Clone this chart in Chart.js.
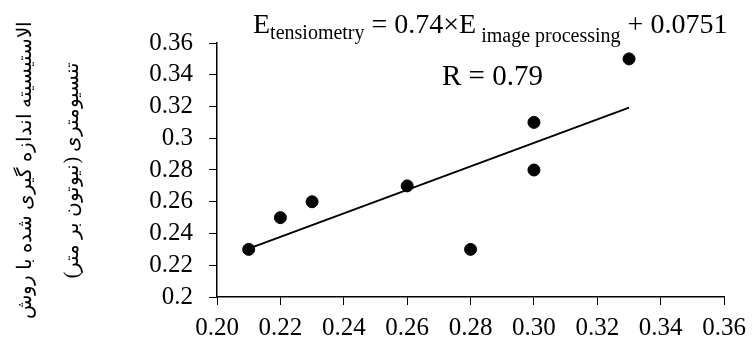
<!DOCTYPE html>
<html>
<head>
<meta charset="utf-8">
<script src="https://cdn.jsdelivr.net/npm/chart.js@4.4.1/dist/chart.umd.min.js"></script>
<style>
  html,body{margin:0;padding:0;background:#fff;}
  #wrap{width:754px;height:343px;}
</style>
</head>
<body>
<div id="wrap"><canvas id="chart" width="754" height="343"></canvas></div>
<script>
// image processing (x) vs tensiometry (y), N/m
const xValues=[0.21,0.22,0.23,0.26,0.28,0.30,0.30,0.33];
const yValues=[0.23,0.25,0.26,0.27,0.23,0.28,0.31,0.35];
const fitSlope=0.74;
const fitIntercept=0.0751;
const rValue='0.79';
const xTickLabels=['0.20','0.22','0.24','0.26','0.28','0.30','0.32','0.34','0.36'];
const yTickLabels=['0.2','0.22','0.24','0.26','0.28','0.3','0.32','0.34','0.36'];
const yTitle=['الاستیسیته اندازه گیری شده با روش','تنسیومتری (نیوتون بر متر)'];

const serif="'Times New Roman','Liberation Serif',serif";

const points=xValues.map((x,i)=>({x:x,y:yValues[i]}));
const xMin=Math.min(...xValues), xMax=Math.max(...xValues);
const fitLine=[xMin,xMax].map(x=>({x:x,y:fitSlope*x+fitIntercept}));

// equation + R label
const equationPlugin={
  id:'equation',
  afterDraw(chart){
    const ctx=chart.ctx;
    ctx.save();
    ctx.fillStyle='#000';
    ctx.textBaseline='alphabetic';
    ctx.textAlign='left';
    const big='28px '+serif, small='20px '+serif;
    const parts=[
      ['E',big,0],['tensiometry',small,6],[' = '+fitSlope+'\u00d7E',big,0],
      [' image processing',small,9],[' + '+fitIntercept,big,0]
    ];
    let x=253;
    parts.forEach(p=>{
      ctx.font=p[1];
      ctx.fillText(p[0],x,33+p[2]);
      x+=ctx.measureText(p[0]).width;
    });
    ctx.font='29px '+serif;
    ctx.fillText('R = '+rValue,442,85);
    ctx.restore();
  }
};

new Chart(document.getElementById('chart'),{
  type:'scatter',
  data:{datasets:[
    {data:points,backgroundColor:'#000',borderColor:'#000',pointRadius:6,pointHoverRadius:6},
    {type:'line',data:fitLine,borderColor:'#000',borderWidth:2,pointRadius:0,fill:false}
  ]},
  options:{
    responsive:false,
    animation:false,
    layout:{padding:{top:43,left:0,right:0,bottom:0}},
    plugins:{legend:{display:false},tooltip:{enabled:false}},
    scales:{
      x:{
        type:'linear',min:0.2,max:0.36,
        afterFit(s){s.height=46;},
        grid:{display:true,drawOnChartArea:false,drawTicks:true,tickLength:8,color:'#000'},
        border:{display:true,color:'#000',width:1.5},
        ticks:{stepSize:0.02,color:'#000',padding:8,maxRotation:0,autoSkip:false,
          font:{family:serif,size:25},
          callback:(v,i)=>xTickLabels[i]}
      },
      y:{
        type:'linear',min:0.2,max:0.36,
        afterFit(s){s.width=217;},
        grid:{display:true,drawOnChartArea:false,drawTicks:true,tickLength:8,color:'#000'},
        border:{display:true,color:'#000',width:1.5},
        ticks:{stepSize:0.02,color:'#000',padding:16,autoSkip:false,
          font:{family:serif,size:25},
          callback:(v,i)=>yTickLabels[i]},
        title:{display:true,text:yTitle,color:'#000',padding:{top:2,bottom:0},
          font:{family:serif,size:20,lineHeight:2.35}}
      }
    }
  },
  plugins:[equationPlugin]
});
</script>
</body>
</html>
